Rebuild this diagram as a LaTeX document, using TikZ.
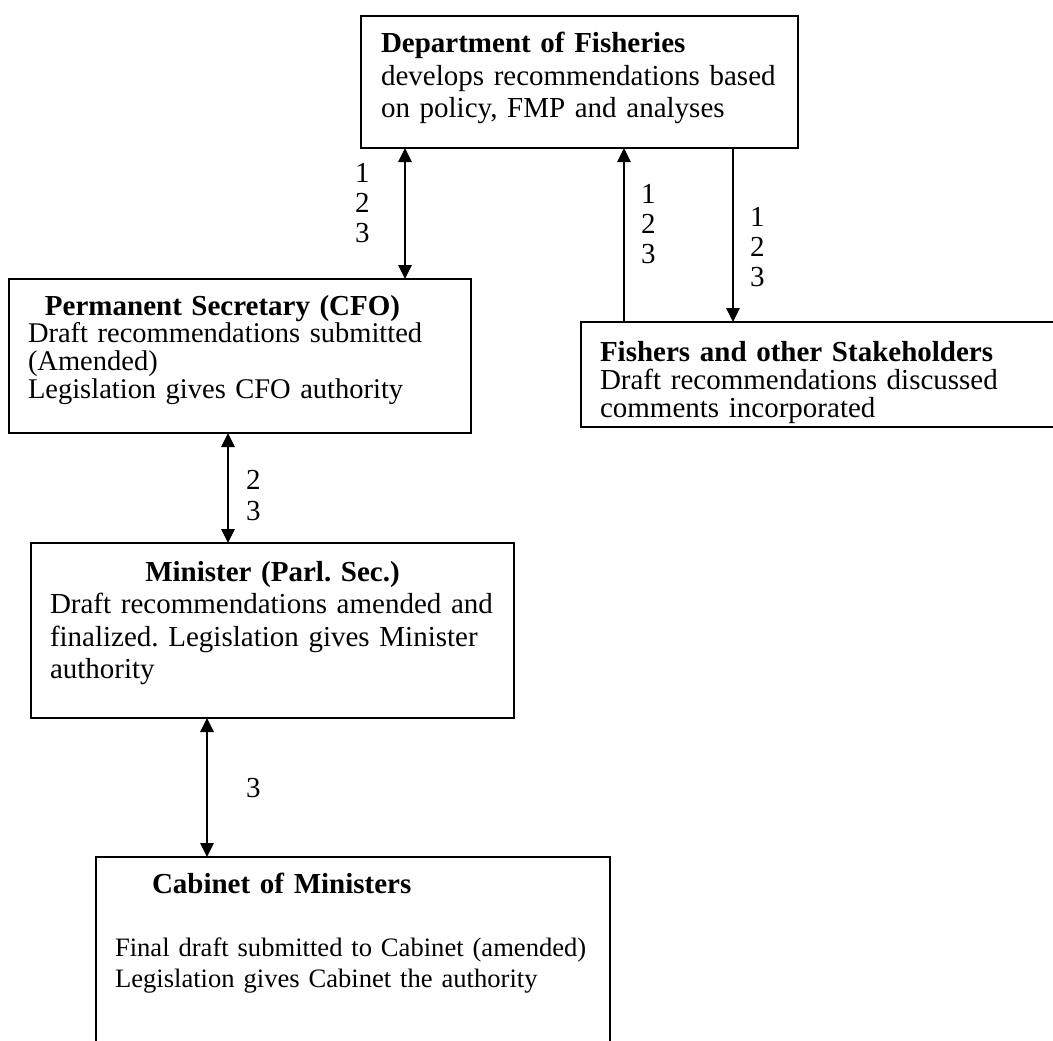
\documentclass[tikz,border=0pt]{standalone}
\usepackage{fontspec}
\setmainfont{Liberation Serif}
\usetikzlibrary{arrows.meta}
\frenchspacing
\begin{document}
\begin{tikzpicture}[x=1pt,y=-1pt,
  box/.style={draw, line width=1.6pt, anchor=north west, inner sep=0pt, outer sep=0pt},
  txt/.style={anchor=base west, inner sep=0pt, outer sep=0pt, align=left},
  lbl/.style={anchor=base west, inner sep=0pt, outer sep=0pt, align=left, text width=20pt, font=\fontsize{29}{30}\selectfont},
  tip/.tip={Triangle[length=14pt,width=13.5pt]},
  conn/.style={line width=1.4pt, -tip},
  bconn/.style={line width=1.4pt, tip-tip}
]
\fill[white] (0,0) rectangle (1053,1041);
\useasboundingbox (0,0) rectangle (1053,1041);

% boxes
\node[box, minimum width=437pt, minimum height=132pt] (dept) at (361,16) {};
\node[box, minimum width=462pt, minimum height=154pt] (cfo) at (9,279) {};
\node[box, minimum width=520pt, minimum height=105pt] (fish) at (581,322) {};
\node[box, minimum width=483pt, minimum height=175pt] (mini) at (31,543) {};
\node[box, minimum width=514pt, minimum height=240pt] (cab) at (96,857) {};

% texts
\node[txt, text width=600pt, font=\fontsize{29}{32.5}\selectfont] (deptt) at (381,53)
  {\textbf{Department of Fisheries}\\develops recommendations based\\on policy, FMP and analyses};
\node[txt, text width=600pt, font=\fontsize{28.5}{27.8}\selectfont] (cfot) at (28,315)
  {\hspace*{17pt}{\fontsize{29}{27.8}\selectfont\textbf{Permanent Secretary (CFO)}}\\Draft recommendations submitted\\(Amended)\\Legislation gives CFO authority};
\node[txt, text width=437pt, font=\fontsize{29}{28}\selectfont] (fisht) at (600,361)
  {\textbf{Fishers and other Stakeholders}\\\makebox[\linewidth][s]{Draft recommendations discussed}\\comments incorporated};
\node[txt, text width=445pt, font=\fontsize{29}{32.5}\selectfont] (minit) at (50,581)
  {\makebox[\linewidth]{\textbf{Minister (Parl. Sec.)}}\\\makebox[\linewidth][s]{Draft recommendations amended and}\\\makebox[\linewidth][s]{finalized. Legislation gives Minister}\\authority};
\node[txt, text width=700pt, font=\fontsize{29}{31}\selectfont] (cabt) at (152,893)
  {\textbf{Cabinet of Ministers}};
\node[txt, text width=700pt, font=\fontsize{26.6}{31}\selectfont] (cabb) at (115,956)
  {Final draft submitted to Cabinet (amended)\\Legislation gives Cabinet the authority};

% connector columns
\coordinate (c1) at (405,0);
\coordinate (c2) at (624,0);
\coordinate (c3) at (733,0);
\coordinate (c4) at (228,0);
\coordinate (c5) at (207,0);

\draw[bconn] (dept.south -| c1) -- (cfo.north -| c1);
\draw[conn] (fish.north -| c2) -- (dept.south -| c2);
\draw[conn] (dept.south -| c3) -- (fish.north -| c3);
\draw[bconn] (cfo.south -| c4) -- (mini.north -| c4);
\draw[bconn] (mini.south -| c5) -- (cab.north -| c5);

% labels
\node[lbl] (l1) at (355,182) {1\\2\\3};
\node[lbl] (l2) at (641,203) {1\\2\\3};
\node[lbl] (l3) at (750,226) {1\\2\\3};
\node[lbl, font=\fontsize{29}{31}\selectfont] (l4) at (246,489) {2\\3};
\node[lbl] (l5) at (246,797) {3};
\end{tikzpicture}
\end{document}
